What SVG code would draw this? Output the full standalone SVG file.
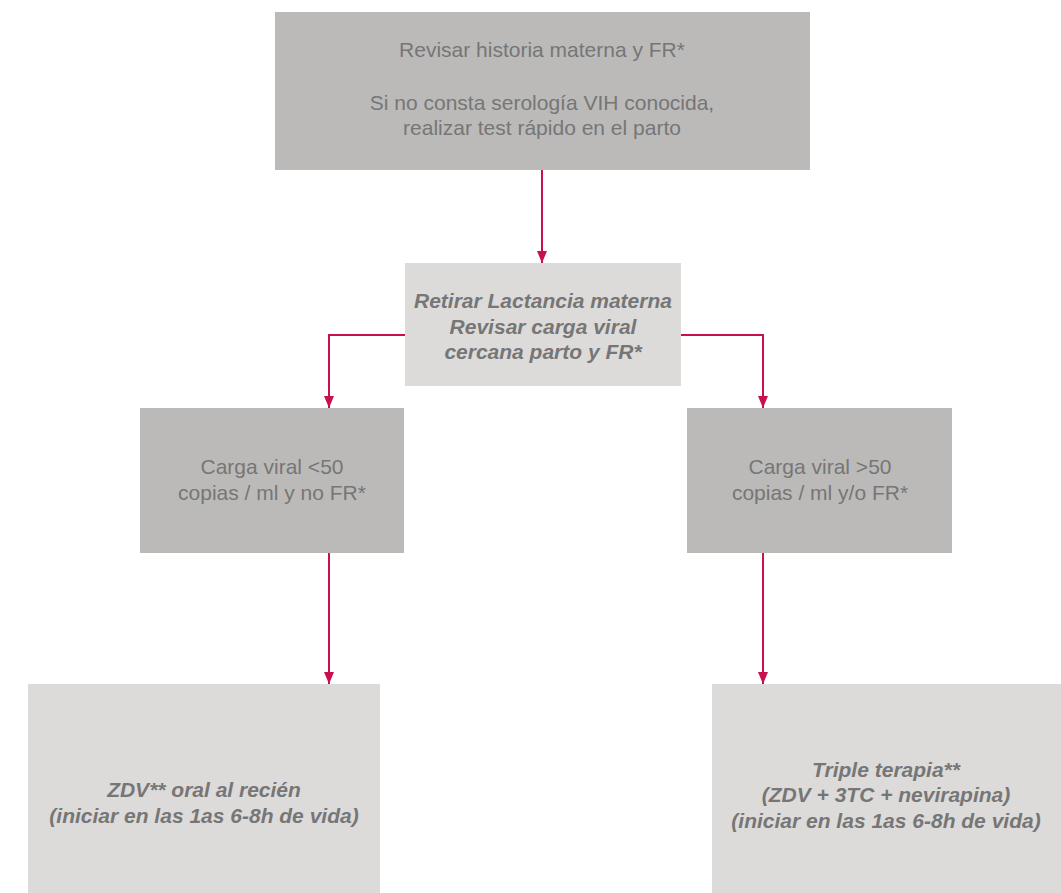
<svg xmlns="http://www.w3.org/2000/svg" width="1061" height="893" viewBox="0 0 1061 893">
<style>
.dark{fill:#bbbab9}
.light{fill:#dcdbda}
.t{font-family:"Liberation Sans",Arial,sans-serif;font-size:21px;fill:#767676;text-anchor:middle}
.b{font-family:"Liberation Sans",Arial,sans-serif;font-size:21px;fill:#767676;text-anchor:middle;font-weight:bold;font-style:italic}
.c{fill:none;stroke:#c8104e;stroke-width:2}
</style>
<defs>
<marker id="a" markerWidth="12" markerHeight="10" refX="12" refY="5" orient="auto" markerUnits="userSpaceOnUse">
<path d="M0,0 L12,5 L0,10 Z" fill="#c8104e"/>
</marker>
</defs>
<g id="n1">
<rect class="dark" x="275" y="12" width="535" height="158"/>
<text class="t" x="542" y="57">Revisar historia materna y FR*</text>
<text class="t" x="542" y="110">Si no consta serología VIH conocida,</text>
<text class="t" x="542" y="135">realizar test rápido en el parto</text>
</g>
<g id="n2">
<rect class="light" x="405" y="263" width="276" height="123"/>
<text class="b" x="543" y="308">Retirar Lactancia materna</text>
<text class="b" x="543" y="334">Revisar carga viral</text>
<text class="b" x="543" y="359">cercana parto y FR*</text>
</g>
<g id="n3">
<rect class="dark" x="140" y="408" width="264" height="145"/>
<text class="t" x="272" y="474">Carga viral &lt;50</text>
<text class="t" x="272" y="500">copias / ml y no FR*</text>
</g>
<g id="n4">
<rect class="dark" x="687" y="408" width="265" height="145"/>
<text class="t" x="820" y="474">Carga viral &gt;50</text>
<text class="t" x="820" y="500">copias / ml y/o FR*</text>
</g>
<g id="n5">
<rect class="light" x="28" y="684" width="352" height="209"/>
<text class="b" x="204" y="797">ZDV** oral al recién</text>
<text class="b" x="204" y="823">(iniciar en las 1as 6-8h de vida)</text>
</g>
<g id="n6">
<rect class="light" x="712" y="684" width="349" height="209"/>
<text class="b" x="886" y="777">Triple terapia**</text>
<text class="b" x="886" y="802">(ZDV + 3TC + nevirapina)</text>
<text class="b" x="886" y="828">(iniciar en las 1as 6-8h de vida)</text>
</g>
<g id="connectors">
<path class="c" d="M542,170 V263" marker-end="url(#a)"/>
<path class="c" d="M405,335 H329 V408" marker-end="url(#a)"/>
<path class="c" d="M681,335 H763 V408" marker-end="url(#a)"/>
<path class="c" d="M329,553 V684" marker-end="url(#a)"/>
<path class="c" d="M763,553 V684" marker-end="url(#a)"/>
</g>
</svg>
